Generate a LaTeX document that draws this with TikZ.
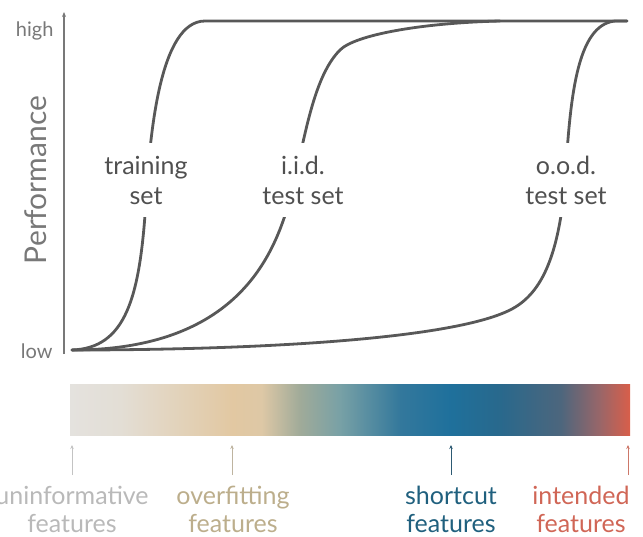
\documentclass[tikz,border=0pt]{standalone}
\usepackage{fontspec}
\setmainfont{Lato}
\usetikzlibrary{arrows.meta}
\definecolor{curvegray}{RGB}{88,88,88}
\definecolor{axisgray}{RGB}{120,120,120}
\definecolor{labelgray}{RGB}{80,80,80}
\definecolor{uninfc}{RGB}{185,185,185}
\definecolor{overc}{RGB}{188,174,140}
\definecolor{shortc}{RGB}{32,96,126}
\definecolor{intc}{RGB}{208,102,86}
\definecolor{uninfa}{RGB}{195,195,195}
\definecolor{overa}{RGB}{190,180,160}
\definecolor{shorta}{RGB}{45,90,115}
\definecolor{inta}{RGB}{205,120,105}
\pgfdeclarehorizontalshading{featbar}{100bp}{
 rgb(0bp)=(0.894,0.886,0.871);
 rgb(25bp)=(0.894,0.886,0.871);
 rgb(29.5bp)=(0.890,0.870,0.835);
 rgb(39.5bp)=(0.886,0.784,0.635);
 rgb(42.1bp)=(0.870,0.784,0.650);
 rgb(45.5bp)=(0.630,0.670,0.600);
 rgb(49.1bp)=(0.470,0.630,0.650);
 rgb(54.5bp)=(0.200,0.470,0.610);
 rgb(59.0bp)=(0.120,0.440,0.610);
 rgb(63.4bp)=(0.160,0.410,0.550);
 rgb(68.8bp)=(0.300,0.400,0.490);
 rgb(72.3bp)=(0.600,0.400,0.410);
 rgb(75bp)=(0.850,0.370,0.290);
 rgb(100bp)=(0.850,0.370,0.290)}
\tikzset{
  curve/.style={draw=curvegray, line width=2.8pt, line cap=round, line join=round},
  clabel/.style={fill=white, text=labelgray, align=center, inner xsep=3pt, inner ysep=13pt,
    font=\fontsize{25}{30}\selectfont},
  ticklabel/.style={text=axisgray, font=\fontsize{20}{22}\selectfont},
  flabel/.style={align=center, font=\fontsize{25}{28}\selectfont},
  farrow/.style={line width=0.8pt, -{Stealth[length=4pt,width=3.5pt]}}
}
\begin{document}
\begin{tikzpicture}[x=1pt,y=-1pt]
\useasboundingbox (0,0) rectangle (643,536);
% axis
\coordinate (axbot) at (64,354);
\coordinate (axtop) at (64,12);
\draw[axisgray, line width=1.1pt, -{Stealth[length=5pt,width=4pt]}] (axbot) -- (axtop);
\node[ticklabel, anchor=east] (high) at (57,31) {high};
\node[ticklabel, anchor=east] (low) at (56,351) {low};
\node[text=axisgray, rotate=90, font=\fontsize{30}{32}\selectfont] (perf) at (36,180) {Performance};
% curves
\draw[curve] (72,350) .. controls (125,348) and (140,300) .. (146,200)
  .. controls (150,133) and (160,21) .. (205,21) -- (627,21);
\draw[curve] (72,350) .. controls (250,350) and (280,240) .. (294,183)
  .. controls (306,130) and (315,75) .. (340,50)
  .. controls (355,35) and (420,23) .. (500,21);
\draw[curve] (72,350) .. controls (250,350) and (450,340) .. (510,310)
  .. controls (540,295) and (558,260) .. (565,183)
  .. controls (570,100) and (576,25) .. (615,21) -- (627,21);
% curve labels
\node[clabel] (train) at (146,180) {training\\set};
\node[clabel] (iid) at (303,180) {i.i.d.\\test set};
\node[clabel] (ood) at (566,180) {o.o.d.\\test set};
% gradient bar
\shade[shading=featbar] (70,384) rectangle (630,435);
\node[inner sep=0pt, minimum width=560pt, minimum height=51pt] (bar) at (350,409.5) {};
% feature labels
\node[flabel, text=uninfc] (uninf) at (72,509) {uninformative\\features};
\node[flabel, text=overc] (over) at (233,509) {overfitting\\features};
\node[flabel, text=shortc] (short) at (451,509) {shortcut\\features};
\node[flabel, text=intc] (intd) at (581,509) {intended\\features};
\coordinate (a1) at (72,445); \coordinate (a1b) at (72,475);
\coordinate (a2) at (232,445); \coordinate (a2b) at (232,475);
\coordinate (a3) at (451,445); \coordinate (a3b) at (451,475);
\coordinate (a4) at (628,445); \coordinate (a4b) at (628,475);
\draw[farrow, uninfa] (a1b) -- (a1);
\draw[farrow, overa] (a2b) -- (a2);
\draw[farrow, shorta] (a3b) -- (a3);
\draw[farrow, inta] (a4b) -- (a4);
\end{tikzpicture}
\end{document}
